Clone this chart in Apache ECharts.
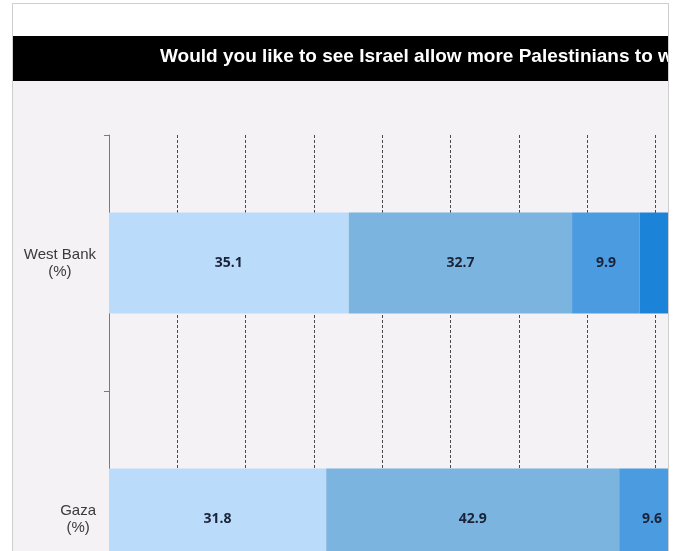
<!DOCTYPE html>
<html>
<head>
<meta charset="utf-8">
<script src="https://cdn.jsdelivr.net/npm/echarts@6/dist/echarts.min.js"></script>
<style>
  html, body { margin: 0; padding: 0; background: #fff; }
  #panel {
    position: absolute; left: 12px; top: 3px;
    width: 655px; height: 560px;
    border: 1px solid #cfcfcf; border-bottom: none;
    overflow: hidden;
  }
  #chart { width: 900px; height: 700px; }
</style>
</head>
<body>
<div id="panel"><div id="chart"></div></div>
<script>
(function() {
  // --- data ---
  var categories = ['West Bank\n(%)', 'Gaza\n(%)'];
  var seriesNames = ['Yes, definitely', 'Yes, somewhat', 'No, somewhat', 'No, definitely'];
  var answer1 = [35.1, 31.8];
  var answer2 = [32.7, 42.9];
  var answer3 = [9.9, 9.6];
  var answer4 = [22.3, 15.7];
  var axisMin = 0, axisMax = 100, axisStep = 10;

  var colors = ['#badcfa', '#7bb4de', '#4a9be0', '#1c84d8'];
  var title = 'Would you like to see Israel allow more Palestinians to work in Israel?';

  var chart = echarts.init(document.getElementById('chart'), null, { renderer: 'canvas' });

  function bar(name, data, color) {
    return {
      name: name,
      type: 'bar',
      stack: 'total',
      barWidth: 101,
      data: data,
      itemStyle: { color: color },
      label: {
        show: true,
        position: 'inside',
        color: '#1a2238',
        fontFamily: 'Open Sans',
        fontWeight: 700,
        fontSize: 14
      }
    };
  }

  chart.setOption({
    animation: false,
    backgroundColor: '#f4f2f5',
    title: {
      text: title,
      left: 147,
      top: 43,
      padding: 0,
      textStyle: {
        color: '#fff',
        fontFamily: 'Liberation Sans',
        fontWeight: 'bold',
        fontSize: 19
      }
    },
    graphic: [
      { type: 'rect', z: -1, shape: { x: 0, y: 0, width: 900, height: 32 }, style: { fill: '#fff' } },
      { type: 'rect', z: -1, shape: { x: 0, y: 32, width: 900, height: 45 }, style: { fill: '#000' } }
    ],
    grid: { left: 96, top: 131, width: 683, height: 512 },
    xAxis: {
      type: 'value',
      min: axisMin,
      max: axisMax,
      interval: axisStep,
      axisLine: { show: false },
      axisTick: { show: false },
      axisLabel: { show: false },
      splitLine: {
        show: true,
        showMinLine: false,
        lineStyle: { color: '#4a4a4a', type: [3, 2], width: 1 }
      }
    },
    yAxis: {
      type: 'category',
      inverse: true,
      data: categories,
      axisLine: { lineStyle: { color: '#7a7a7a' } },
      axisTick: { show: true, length: 5, lineStyle: { color: '#7a7a7a' } },
      axisLabel: {
        margin: 13,
        align: 'right',
        formatter: function(v) {
          return v.split('\n').map(function(s) { return '{c|' + s + '}'; }).join('\n');
        },
        rich: {
          c: {
            align: 'center',
            color: '#3a3a3a',
            fontFamily: 'Liberation Sans',
            fontSize: 15,
            lineHeight: 17
          }
        }
      }
    },
    series: [
      bar(seriesNames[0], answer1, colors[0]),
      bar(seriesNames[1], answer2, colors[1]),
      bar(seriesNames[2], answer3, colors[2]),
      bar(seriesNames[3], answer4, colors[3])
    ]
  });
})();
</script>
</body>
</html>
